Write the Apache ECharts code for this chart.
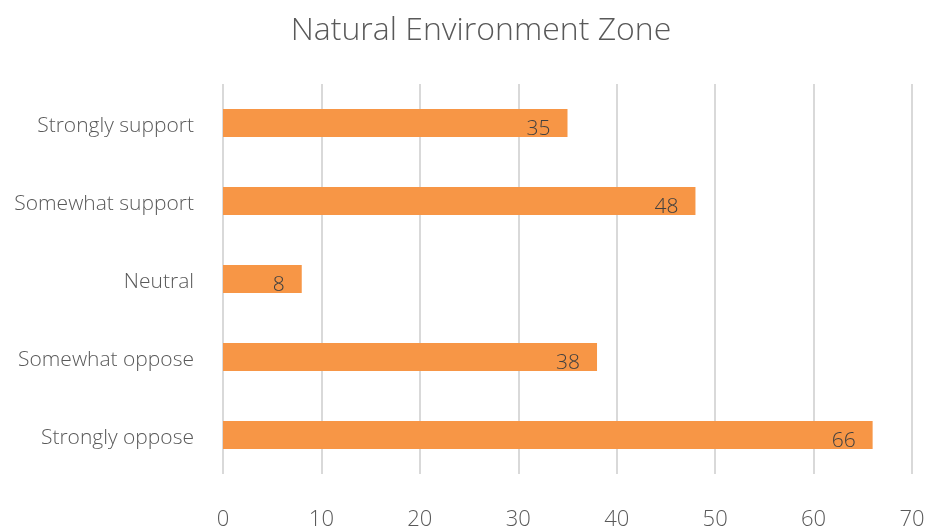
<!DOCTYPE html>
<html>
<head>
<meta charset="utf-8">
<script src="https://cdn.jsdelivr.net/npm/echarts@6/dist/echarts.min.js"></script>
<style>
  html, body { margin: 0; padding: 0; background: #fff; }
  #chart { width: 928px; height: 531px; }
</style>
</head>
<body>
<div id="chart"></div>
<script>
var categories = ["Strongly support", "Somewhat support", "Neutral", "Somewhat oppose", "Strongly oppose"];
var values = [35, 48, 8, 38, 66];
var xTicks = [0, 10, 20, 30, 40, 50, 60, 70];

var myChart = echarts.init(document.getElementById("chart"));
var font = "'Open Sans', 'DejaVu Sans', sans-serif";
myChart.setOption({
  textStyle: { fontFamily: font },
  title: {
    text: "Natural Environment Zone",
    left: 476,
    textAlign: "center",
    top: 10,
    textStyle: { fontFamily: font, fontSize: 32, fontWeight: 300, color: "#595959" }
  },
  grid: { left: 223, right: 16, top: 84, bottom: 57 },
  xAxis: {
    type: "value",
    min: xTicks[0],
    max: xTicks[xTicks.length - 1],
    interval: 10,
    axisLine: { show: false },
    axisTick: { show: false },
    axisLabel: { fontSize: 22, color: "#595959", margin: 35, fontWeight: 300 },
    splitLine: { show: true, lineStyle: { color: "#d9d9d9", width: 2 } }
  },
  yAxis: {
    type: "category",
    inverse: true,
    data: categories,
    axisLine: { show: false },
    axisTick: { show: false },
    axisLabel: { fontSize: 21, color: "#595959", margin: 29, fontWeight: 300, verticalAlign: "top", lineHeight: 6 }
  },
  series: [
    {
      type: "bar",
      data: values,
      barWidth: 28,
      itemStyle: { color: "#F79646" },
      label: {
        show: true,
        position: "insideRight",
        distance: 17,
        offset: [0, 6],
        fontSize: 21,
        fontWeight: 300,
        color: "#404040"
      }
    }
  ]
});
</script>
</body>
</html>
